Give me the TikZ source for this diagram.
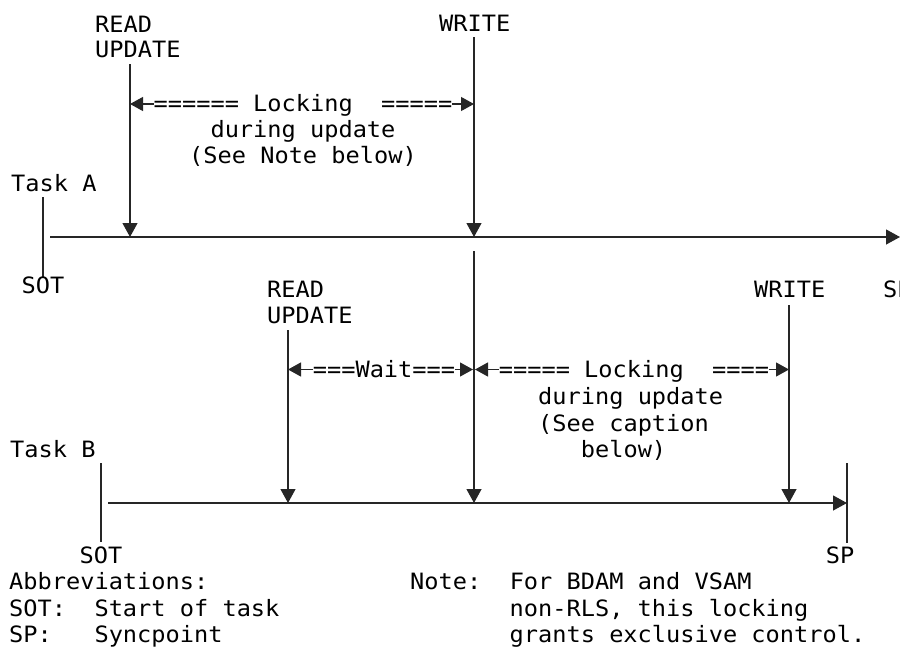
\documentclass[tikz,border=0pt]{standalone}
\usepackage{fontspec}
\setmainfont[FakeStretch=1.05]{DejaVu Sans Mono}
\usetikzlibrary{arrows.meta}
\begin{document}
\begin{tikzpicture}[x=1pt,y=-1pt,
  lbl/.style={inner sep=0pt, font=\fontsize{22.5}{27}\selectfont},
  lockbg/.style={lbl, fill=white, anchor=base},
  ln/.style={line width=1.2pt, draw=black!85},
  arr/.style={ln, -{Triangle[length=14pt,width=15pt]}},
  darr/.style={ln, {Triangle[length=13pt,width=14pt]}-{Triangle[length=13pt,width=14pt]}}]
\useasboundingbox (0,0) rectangle (900,648);

% ---- coordinates ----
\coordinate (aStart) at (50,237);
\coordinate (aEnd) at (900,237);
\coordinate (aSotT) at (43,197);
\coordinate (aSotB) at (43,277);
\coordinate (aRdT) at (130,64);
\coordinate (aRd) at (130,237);
\coordinate (aWrT) at (474,37);
\coordinate (aWr) at (474,237);
\coordinate (aLkL) at (130,104);
\coordinate (aLkR) at (474,104);

\coordinate (bStart) at (108,503);
\coordinate (bEnd) at (847,503);
\coordinate (bSotT) at (101,463);
\coordinate (bSotB) at (101,542);
\coordinate (bSpT) at (847,463);
\coordinate (bSpB) at (847,543);
\coordinate (bRdT) at (288,330);
\coordinate (bRd) at (288,503);
\coordinate (bAwT) at (474,251);
\coordinate (bAw) at (474,503);
\coordinate (bWrT) at (789,305);
\coordinate (bWr) at (789,503);
\coordinate (bWtL) at (288,369.5);
\coordinate (bWtR) at (473,369.5);
\coordinate (bLkL) at (475,369.5);
\coordinate (bLkR) at (789,369.5);

% ---- Task A ----
\draw[arr] (aStart) -- (aEnd);
\draw[ln] (aSotT) -- (aSotB);
\draw[arr] (aRdT) -- (aRd);
\draw[arr] (aWrT) -- (aWr);
\draw[darr] (aLkL) -- (aLkR);

\node[lbl, anchor=base west] (readA) at (95,32) {READ};
\node[lbl, anchor=base west] (updA) at (95,57) {UPDATE};
\node[lbl, anchor=base west] (writeA) at (439,31) {WRITE};
\node[lockbg] (lockA) at (303,111) {====== Locking\ \ =====};
\node[lbl, anchor=base] (durA) at (303,137) {during update};
\node[lbl, anchor=base] (seeA) at (303,163) {(See Note below)};
\node[lbl, anchor=base west] (taskA) at (11,191) {Task A};
\node[lbl, anchor=base] (sotA) at (43,293) {SOT};
\node[lbl, anchor=base west] (spA) at (883,297) {SP};

% ---- Task B ----
\draw[arr] (bStart) -- (bEnd);
\draw[ln] (bSotT) -- (bSotB);
\draw[ln] (bSpT) -- (bSpB);
\draw[arr] (bRdT) -- (bRd);
\draw[arr] (bAwT) -- (bAw);
\draw[arr] (bWrT) -- (bWr);
\draw[darr] (bWtL) -- (bWtR);
\draw[darr] (bLkL) -- (bLkR);

\node[lbl, anchor=base west] (readB) at (267,297) {READ};
\node[lbl, anchor=base west] (updB) at (267,323) {UPDATE};
\node[lbl, anchor=base west] (writeB) at (754,297) {WRITE};
\node[lockbg] (waitB) at (384,377) {===Wait===};
\node[lockbg] (lockB) at (634,377) {===== Locking\ \ ====};
\node[lbl, anchor=base west] (durB) at (538,404) {during update};
\node[lbl, anchor=base west] (seeB) at (538,431) {(See caption};
\node[lbl, anchor=base west] (belB) at (538,457) {\ \ \ below)};
\node[lbl, anchor=base west] (taskB) at (10,457) {Task B};
\node[lbl, anchor=base] (sotB) at (101,563) {SOT};
\node[lbl, anchor=base] (spB) at (840,563) {SP};

% ---- legend ----
\node[lbl, anchor=base west] (abbr) at (9,589) {Abbreviations:};
\node[lbl, anchor=base west] (abSot) at (9,616) {SOT:\ \ Start of task};
\node[lbl, anchor=base west] (abSp) at (9,642) {SP:\ \ \ Syncpoint};
\node[lbl, anchor=base west] (note1) at (410,589) {Note:\ \ For BDAM and VSAM};
\node[lbl, anchor=base west] (note2) at (509.5,616) {non-RLS, this locking};
\node[lbl, anchor=base west] (note3) at (509.5,642) {grants exclusive control.};
\end{tikzpicture}
\end{document}
